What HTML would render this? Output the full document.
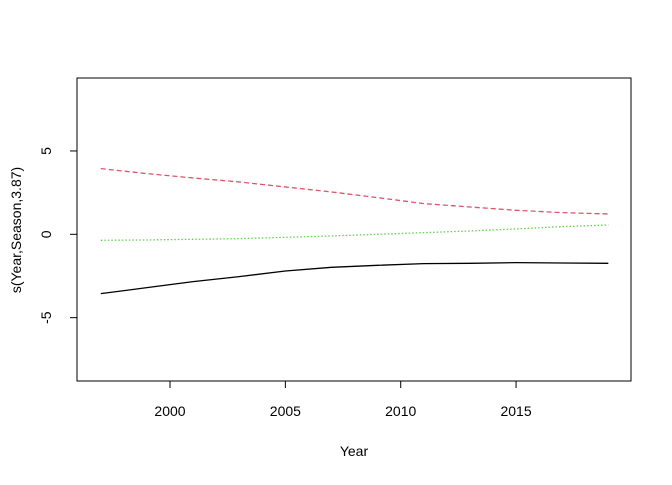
<!DOCTYPE html>
<html><head><meta charset="utf-8"><style>body{margin:0;background:#fff}svg text{font-family:"Liberation Sans",Arial,sans-serif;font-size:14px;fill:#000}</style></head>
<body>
<svg id="chart" width="672" height="480">
<rect x="77" y="78" width="554" height="303" fill="none" stroke="#000"/>
<g id="axes"></g><g id="series"></g>
<text x="354" y="456" text-anchor="middle">Year</text>
<text transform="translate(21,230) rotate(-90)" text-anchor="middle">s(Year,Season,3.87)</text>
</svg>
<script>
const years=[1997,1999,2001,2003,2005,2007,2009,2011,2013,2015,2017,2019];
const fitValues=[-3.56,-3.2,-2.84,-2.54,-2.2,-1.98,-1.86,-1.76,-1.74,-1.7,-1.72,-1.74];
const upperValues=[3.94,3.64,3.38,3.14,2.84,2.54,2.2,1.84,1.64,1.44,1.3,1.22];
const greenValues=[-0.36,-0.34,-0.3,-0.26,-0.18,-0.1,0.0,0.1,0.2,0.32,0.46,0.56];
const xTicks=[2000,2005,2010,2015];
const yTicks=[-5,0,5];
const NS='http://www.w3.org/2000/svg';
function xs(v){return 100.8+23.07*(v-1997);}
function ys(v){return 234.3-16.67*v;}
const axes=document.getElementById('axes'),ser=document.getElementById('series');
function mk(t,a,p){const e=document.createElementNS(NS,t);for(const k in a)e.setAttribute(k,a[k]);p.appendChild(e);return e;}
xTicks.forEach(t=>{const x=xs(t);
 const l=mk('line',{x1:x,x2:x,y1:381,y2:388,stroke:'#000'},axes);
 
 
 const tx=mk('text',{x:x,y:416,'text-anchor':'middle'},axes);tx.textContent=t;
 
 });
yTicks.forEach(t=>{const y=ys(t);
 const l=mk('line',{x1:70,x2:77,y1:y,y2:y,stroke:'#000'},axes);
 
 
 const tx=mk('text',{transform:`translate(51,${y}) rotate(-90)`,'text-anchor':'middle'},axes);tx.textContent=t;
 
 });
function line(vals,color,dash,name){const d=vals.map((v,i)=>(i?'L':'M')+xs(years[i])+' '+ys(v)).join(' ');
 const p=mk('path',{d:d,fill:'none',stroke:color,'stroke-width':1.3,'stroke-dasharray':dash},ser);
 
 }
line(fitValues,'#000','none','lower-line');
line(upperValues,'#df536b','5 3','upper-line');
line(greenValues,'#61d04f','1.5 2','fit-line');
</script>
</body></html>
